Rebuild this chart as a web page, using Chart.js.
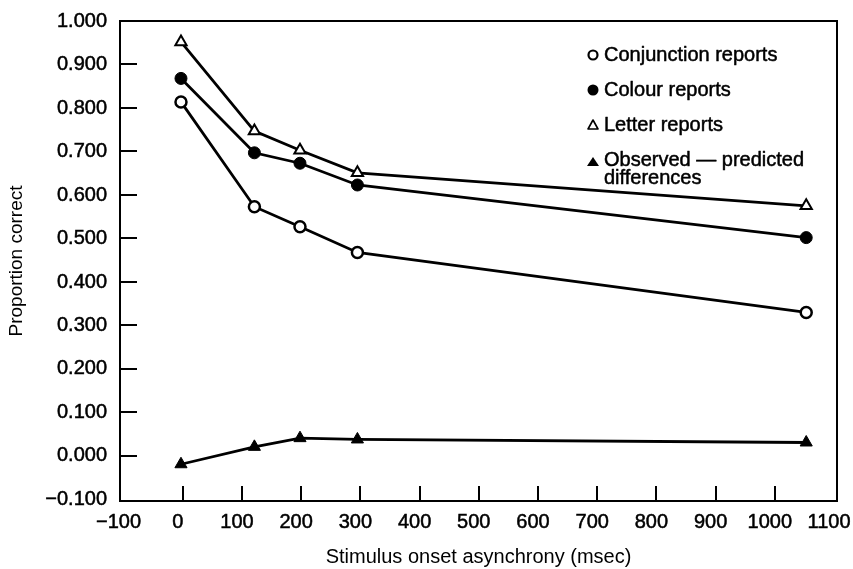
<!DOCTYPE html>
<html>
<head>
<meta charset="utf-8">
<script src="https://cdn.jsdelivr.net/npm/chart.js@4.4.1/dist/chart.umd.min.js"></script>
<style>
  html, body { margin: 0; padding: 0; background: #fff; overflow: hidden; }
  .chart-wrap { width: 853px; height: 569px; }
</style>
</head>
<body>
<div class="chart-wrap">
  <canvas id="chart" width="853" height="569" aria-label="Proportion correct by stimulus onset asynchrony"></canvas>
</div>
<script>
// stimulus onset asynchrony (msec)
const soa = [-3, 121, 198, 295, 1053];

const conjunction = [0.814, 0.573, 0.527, 0.468, 0.330];
const colour = [0.868, 0.697, 0.673, 0.623, 0.502];
const letter = [0.952, 0.747, 0.703, 0.651, 0.575];
const differences = [-0.019, 0.021, 0.041, 0.038, 0.031];

const xTicks = [-100, 0, 100, 200, 300, 400, 500, 600, 700, 800, 900, 1000, 1100];
const yTicks = [-0.1, 0, 0.1, 0.2, 0.3, 0.4, 0.5, 0.6, 0.7, 0.8, 0.9, 1.0];

const legendItems = [
  { lines: ["Conjunction reports"], marker: "openCircle" },
  { lines: ["Colour reports"], marker: "filledCircle" },
  { lines: ["Letter reports"], marker: "openTriangle" },
  { lines: ["Observed \u2014 predicted", "differences"], marker: "filledTriangle" },
];

const FONT = "'Liberation Sans', Arial, sans-serif";

function points(values) {
  return soa.map((x, i) => ({ x, y: values[i] }));
}

function signed(v, digits) {
  const s = Math.abs(v).toFixed(digits);
  return v < -1e-9 ? "\u2212" + s : s;
}

// frame round the plot, inward tick marks, legend
const framePlugin = {
  id: "frame",
  afterDraw(chart) {
    const { ctx, chartArea: a, scales } = chart;
    ctx.save();
    ctx.strokeStyle = "#000";
    ctx.lineWidth = 2;
    ctx.strokeRect(a.left, a.top, a.right - a.left, a.bottom - a.top);

    ctx.beginPath();
    yTicks.forEach((v) => {
      if (v <= -0.1 + 1e-6 || v >= 1 - 1e-6) return;
      const y = Math.round(scales.y.getPixelForValue(v));
      ctx.moveTo(a.left, y);
      ctx.lineTo(a.left + 17, y);
    });
    xTicks.forEach((v) => {
      if (v <= -100 || v >= 1100) return;
      const x = Math.round(scales.x.getPixelForValue(v));
      ctx.moveTo(x, a.bottom);
      ctx.lineTo(x, a.bottom - 15);
    });
    ctx.stroke();

    // legend
    const symX = 593;
    const textX = 604;
    let y = 55;
    ctx.font = "20px " + FONT;
    ctx.textBaseline = "middle";
    ctx.lineJoin = "round";
    legendItems.forEach((item) => {
      ctx.lineWidth = 2.2;
      ctx.beginPath();
      if (item.marker === "openCircle") {
        ctx.arc(symX, y, 4.5, 0, Math.PI * 2);
        ctx.fillStyle = "#fff";
        ctx.fill();
        ctx.stroke();
      } else if (item.marker === "filledCircle") {
        ctx.arc(symX, y, 5.5, 0, Math.PI * 2);
        ctx.fillStyle = "#000";
        ctx.fill();
      } else if (item.marker === "openTriangle") {
        ctx.moveTo(symX, y - 5);
        ctx.lineTo(symX + 5, y + 4);
        ctx.lineTo(symX - 5, y + 4);
        ctx.closePath();
        ctx.lineWidth = 1.6;
        ctx.stroke();
      } else {
        ctx.moveTo(symX, y - 3);
        ctx.lineTo(symX + 6, y + 6);
        ctx.lineTo(symX - 6, y + 6);
        ctx.closePath();
        ctx.fillStyle = "#000";
        ctx.fill();
      }
      ctx.fillStyle = "#000";
      ctx.lineWidth = 0.5;
      item.lines.forEach((line, i) => {
        ctx.fillText(line, textX, y + i * 18);
        ctx.strokeText(line, textX, y + i * 18);
      });
      y += 35;
    });
    ctx.restore();
  },
};

const lineStyle = {
  borderColor: "#000",
  borderWidth: 2.8,
  pointBorderColor: "#000",
  pointBorderWidth: 2.5,
  pointHoverRadius: 6,
  showLine: true,
  clip: false,
};

const tickFont = { family: FONT, size: 20 };

new Chart(document.getElementById("chart"), {
  type: "scatter",
  data: {
    datasets: [
      {
        ...lineStyle,
        label: "Conjunction reports",
        data: points(conjunction),
        pointStyle: "circle",
        pointRadius: 5.5,
        pointBackgroundColor: "#fff",
      },
      {
        ...lineStyle,
        label: "Colour reports",
        data: points(colour),
        pointStyle: "circle",
        pointRadius: 6,
        pointBorderWidth: 1,
        pointBackgroundColor: "#000",
      },
      {
        ...lineStyle,
        label: "Letter reports",
        data: points(letter),
        pointStyle: "triangle",
        pointRadius: 6.5,
        pointBorderWidth: 2,
        pointBackgroundColor: "#fff",
      },
      {
        ...lineStyle,
        label: "Observed \u2014 predicted differences",
        data: points(differences),
        pointStyle: "triangle",
        pointRadius: 7,
        pointBorderWidth: 1,
        pointBackgroundColor: "#000",
      },
    ],
  },
  options: {
    responsive: false,
    animation: false,
    layout: {
      padding: { top: 21, right: 16, left: 0, bottom: 0 },
    },
    plugins: {
      legend: { display: false },
      tooltip: { enabled: false },
    },
    scales: {
      x: {
        type: "linear",
        min: -106,
        max: 1105,
        afterBuildTicks: (scale) => {
          scale.ticks = xTicks.map((value) => ({ value }));
        },
        afterFit: (scale) => {
          scale.height = 68;
          scale.paddingLeft = 0;
          scale.paddingRight = 0;
        },
        grid: { display: false, drawTicks: false },
        border: { display: false },
        ticks: {
          color: "#000",
          padding: 9,
          labelOffset: -5,
          maxRotation: 0,
          autoSkip: false,
          font: tickFont,
          textStrokeColor: "#000",
          textStrokeWidth: 0.5,
          callback: (v) => signed(v, 0),
        },
        title: {
          display: true,
          text: "Stimulus onset asynchrony (msec)",
          color: "#000",
          font: { family: FONT, size: 20 },
          padding: { top: 0, bottom: 0 },
        },
      },
      y: {
        min: -0.1035,
        max: 1.0,
        afterBuildTicks: (scale) => {
          scale.ticks = yTicks.map((value) => ({ value }));
        },
        afterFit: (scale) => {
          scale.width = 120;
          scale.paddingTop = 0;
          scale.paddingBottom = 0;
        },
        grid: { display: false, drawTicks: false },
        border: { display: false },
        ticks: {
          color: "#000",
          padding: 13,
          autoSkip: false,
          font: tickFont,
          textStrokeColor: "#000",
          textStrokeWidth: 0.5,
          callback: (v) => signed(v, 3),
        },
        title: {
          display: true,
          text: "Proportion correct",
          color: "#000",
          font: { family: FONT, size: 19 },
          padding: { top: 5, bottom: 0 },
        },
      },
    },
  },
  plugins: [framePlugin],
});
</script>
</body>
</html>
